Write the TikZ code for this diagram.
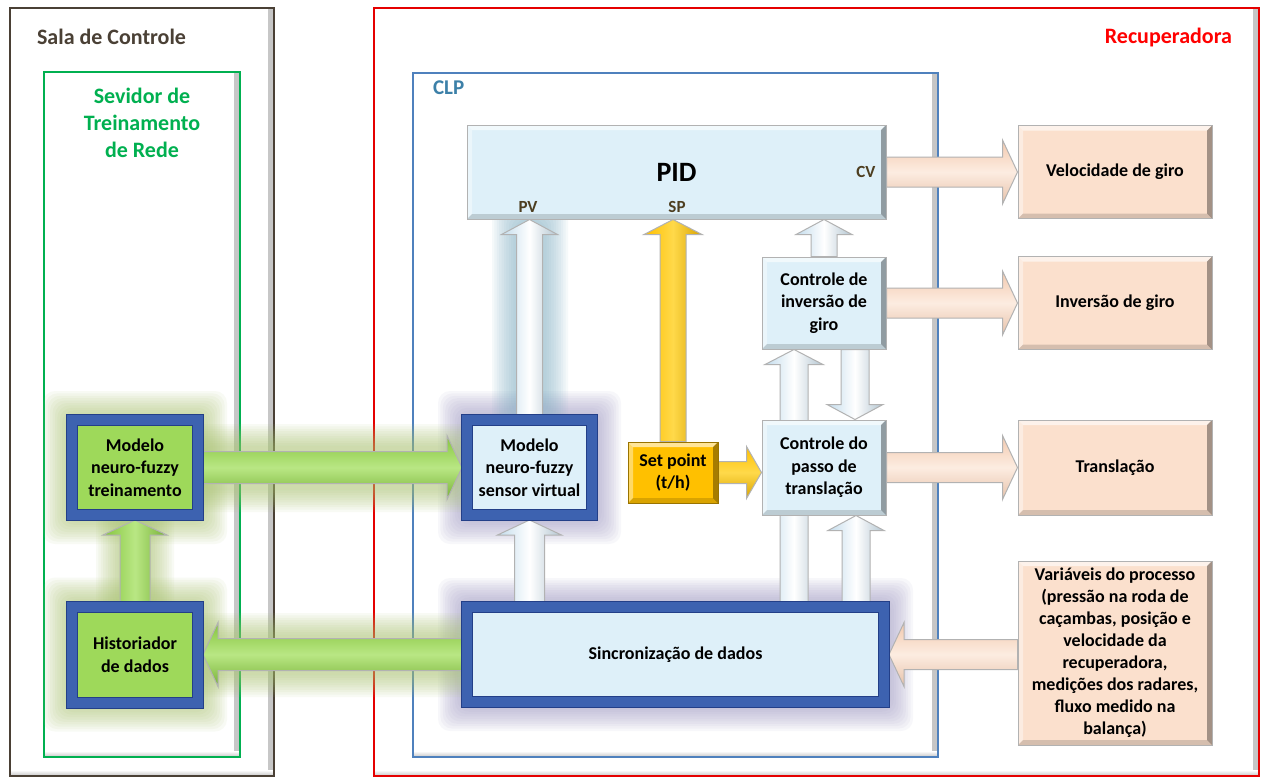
\documentclass[tikz,border=0pt]{standalone}
\usepackage{fontspec}
\setmainfont{Carlito}
\usetikzlibrary{calc}

\definecolor{peach}{HTML}{FBE0CD}
\definecolor{peachdark}{HTML}{F2C9AE}
\definecolor{iceblue}{HTML}{DEF0F9}
\definecolor{iceblue2}{HTML}{C3DCEC}
\definecolor{blueborder}{HTML}{3D62B0}
\definecolor{blueedge}{HTML}{233F88}
\definecolor{leaf}{HTML}{9ED95A}
\definecolor{leafdark}{HTML}{84C43C}
\definecolor{leaflight}{HTML}{B9E784}
\definecolor{gold}{HTML}{FFC000}
\definecolor{goldlight}{HTML}{FFD94A}
\definecolor{salabrown}{HTML}{4A4035}
\definecolor{srvgreen}{HTML}{00B050}
\definecolor{clpblue}{HTML}{3C80A8}
\definecolor{clpframe}{HTML}{4F81BD}
\definecolor{labbrown}{HTML}{4D3E20}
\definecolor{glowgreen}{HTML}{A9C46E}
\definecolor{glowlav}{HTML}{9C96C2}
\definecolor{glowblue}{HTML}{7FAFC5}

\newcommand\boxfont{\fontsize{9}{11.25}\selectfont\bfseries}
\newcommand\tagfont{\fontsize{8.5}{10}\selectfont\bfseries}
\newcommand\titlefont{\fontsize{11}{13.5}\selectfont\bfseries}

\pgfdeclarelayer{frames}
\pgfdeclarelayer{glows}
\pgfdeclarelayer{arrows}
\pgfsetlayers{frames,glows,arrows,main}

% block arrow: style, from, to, shaft half width, head half width
\newcommand\blockarrow[5][]{%
  \coordinate (ba-h) at ($(#3)!7.5pt!(#2)$);
  \draw[arrowline,#1] ($(#2)!#4!-90:(#3)$) -- ($(ba-h)!#4!-90:(#3)$)
    -- ($(ba-h)!#5!-90:(#3)$) -- (#3) -- ($(ba-h)!#5!90:(#3)$)
    -- ($(ba-h)!#4!90:(#3)$) -- ($(#2)!#4!90:(#3)$) -- cycle;}

% soft glow round a rectangle: colour, south west, north east
\newcommand\glow[3]{%
  \foreach \g in {1,...,10}{%
    \fill[#1,opacity=0.075,rounded corners=6pt] ($(#2)+(-1.2pt*\g,-1.2pt*\g)$) rectangle ($(#3)+(1.2pt*\g,1.2pt*\g)$);}}

\begin{document}
\begin{tikzpicture}[x=0.5pt,y=-0.5pt,
  bevel/.style={path picture={
    \fill[white,opacity=0.6] (path picture bounding box.north west) -- (path picture bounding box.north east)
      -- ++(-2.5pt,-2.5pt) -- ($(path picture bounding box.north west)+(2.5pt,-2.5pt)$) -- cycle;
    \fill[white,opacity=0.4] (path picture bounding box.north west) -- (path picture bounding box.south west)
      -- ++(2.5pt,2.5pt) -- ($(path picture bounding box.north west)+(2.5pt,-2.5pt)$) -- cycle;
    \fill[black,opacity=0.35] (path picture bounding box.north east) -- (path picture bounding box.south east)
      -- ++(-2.5pt,2.5pt) -- ($(path picture bounding box.north east)+(-2.5pt,-2.5pt)$) -- cycle;
    \fill[black,opacity=0.15] (path picture bounding box.south west) -- (path picture bounding box.south east)
      -- ++(-2.5pt,2.5pt) -- ($(path picture bounding box.south west)+(2.5pt,2.5pt)$) -- cycle;}},
  panel/.style={draw=#1,line width=1.2pt,fill=white,path picture={
    \shade[left color=white,right color=gray!45] ($(path picture bounding box.north east)+(-3pt,0)$) rectangle (path picture bounding box.south east);
    \shade[top color=white,bottom color=gray!45] ($(path picture bounding box.south west)+(0,3pt)$) rectangle (path picture bounding box.south east);}},
  box/.style={draw=gray!60,line width=0.5pt,fill=iceblue,align=center,inner sep=0pt,font=\boxfont,bevel},
  outbox/.style={box,fill=peach},
  goldbox/.style={box,fill=gold,draw=gold!60!black},
  model/.style={draw=blueborder,line width=5pt,fill=iceblue,preaction={draw=blueedge,line width=6pt},
    align=center,inner sep=0pt,font=\boxfont,path picture={
    \draw[blueedge,line width=1pt] ($(path picture bounding box.south west)+(2.5pt,2.5pt)$) rectangle ($(path picture bounding box.north east)+(-2.5pt,-2.5pt)$);}},
  greenmodel/.style={model,fill=leaf},
  tag/.style={font=\tagfont,text=labbrown,inner sep=1pt},
  arrowline/.style={draw=gray!60,line width=0.5pt,line join=miter},
  vblue/.style={left color=iceblue2,right color=iceblue2!75!gray,middle color=white},
  hpeach/.style={top color=peachdark,bottom color=peachdark!90!gray,middle color=white!40!peach},
  hgreen/.style={top color=leafdark,bottom color=leafdark!90!black,middle color=leaflight},
  vgreen/.style={left color=leafdark,right color=leafdark!90!black,middle color=leaflight},
  vgold/.style={left color=gold,right color=gold!85!black,middle color=goldlight},
  hgold/.style={top color=gold,bottom color=gold!85!black,middle color=goldlight}]

\useasboundingbox (0,0) rectangle (1262,778);

% frames
\begin{pgfonlayer}{frames}
\fill[white] (0,0) rectangle (1262,778);
\draw[panel=salabrown] (10,8) rectangle (274,776);
\draw[panel=srvgreen] (44,72) rectangle (240,757);
\draw[panel=red!90!black] (374,8) rectangle (1259,776);
\draw[panel=clpframe] (413,73) rectangle (938,757);
\end{pgfonlayer}

\node[anchor=west,font=\titlefont,text=salabrown] (salatitle) at (30,37) {Sala de Controle};
\node[align=center,font=\titlefont,text=srvgreen] (srvtitle) at (142,123) {Sevidor de\\Treinamento\\de Rede};
\node[anchor=east,font=\titlefont,text=red] (rectitle) at (1239,38) {Recuperadora};
\node[anchor=west,font=\fontsize{10.5}{12}\selectfont\bfseries,text=clpblue] (clptitle) at (426,88) {CLP};

% blocks
\node[box,minimum width=209.5pt,minimum height=47pt,font=\fontsize{14}{16}\selectfont\bfseries] (pid) at (676.5,172) {PID};
\node[tag] (pvlab) at (528,207) {PV};
\node[tag] (splab) at (677,207) {SP};
\node[tag] (cvlab) at (866,172) {CV};
\node[outbox,minimum width=97pt,minimum height=46.5pt] (velgiro) at (1115,172) {Velocidade de giro};
\node[outbox,minimum width=97pt,minimum height=46.5pt] (invgiro) at (1115,303) {Inversão de giro};
\node[outbox,minimum width=97pt,minimum height=47.5pt] (transl) at (1115,467.5) {Translação};
\node[outbox,minimum width=97pt,minimum height=92pt,font=\fontsize{9}{11}\selectfont\bfseries] (varproc) at (1115,653)
  {Variáveis do processo\\(pressão na roda de\\caçambas, posição e\\velocidade da\\recuperadora,\\medições dos radares,\\fluxo medido na\\balança)};
\node[box,minimum width=62pt,minimum height=46pt] (ctrlinv) at (824,303) {Controle de\\inversão de\\giro};
\node[box,minimum width=62pt,minimum height=47.5pt] (ctrlpasso) at (824,467.5) {Controle do\\passo de\\translação};
\node[goldbox,minimum width=45pt,minimum height=30.5pt] (setpoint) at (673,472.5) {Set point\\(t/h)};
\node[model,minimum width=62.5pt,minimum height=47.5pt] (sensor) at (529.5,467.5) {Modelo\\neuro-fuzzy\\sensor virtual};
\node[model,minimum width=208.5pt,minimum height=47.5pt] (sinc) at (675.5,654.5) {Sincronização de dados};
\node[greenmodel,minimum width=63pt,minimum height=47.5pt] (treino) at (135,467.5) {Modelo\\neuro-fuzzy\\treinamento};
\node[greenmodel,minimum width=63pt,minimum height=48pt] (hist) at (135,654.5) {Historiador\\de dados};

% glows
\begin{pgfonlayer}{glows}
\glow{glowlav}{sinc.south west}{sinc.north east}
\glow{glowlav}{sensor.south west}{sensor.north east}
\glow{glowgreen}{treino.south west}{treino.north east}
\glow{glowgreen}{hist.south west}{hist.north east}
\glow{glowgreen}{203,488}{455,448}
\glow{glowgreen}{212,673}{462,637}
\glow{glowgreen}{120,602}{150,520}
\glow{glowblue}{516,410}{544,222}
\end{pgfonlayer}

% connectors
\begin{pgfonlayer}{arrows}
\coordinate (pv-b) at (pid.south -| sensor.north);
\coordinate (sp-b) at (pid.south -| setpoint.north);
\coordinate (ci-b) at (pid.south -| ctrlinv.north);
\coordinate (up-b) at ($(ctrlinv.south)+(-30,0)$);
\coordinate (up-a) at (sinc.north -| up-b);
\coordinate (dn-a) at ($(ctrlinv.south)+(31,0)$);
\coordinate (dn-b) at (ctrlpasso.north -| dn-a);
\coordinate (cp-b) at ($(ctrlpasso.south)+(32,0)$);
\coordinate (cp-a) at (sinc.north -| cp-b);
\coordinate (sv-a) at (sinc.north -| sensor.south);
\coordinate (vp-a) at (varproc.west |- sinc.east);
\coordinate (st-b) at (ctrlpasso.west |- setpoint.east);
\blockarrow[hpeach]{pid.east}{velgiro.west}{7.5pt}{16pt}
\blockarrow[hpeach]{ctrlinv.east}{invgiro.west}{7.5pt}{16pt}
\blockarrow[hpeach]{ctrlpasso.east}{transl.west}{7.5pt}{16pt}
\blockarrow[hpeach]{vp-a}{sinc.east}{7.5pt}{16pt}
\blockarrow[vblue]{sensor.north}{pv-b}{6.5pt}{14pt}
\blockarrow[vblue]{ctrlinv.north}{ci-b}{6.5pt}{14pt}
\blockarrow[vblue]{up-a}{up-b}{7pt}{14.5pt}
\blockarrow[vblue]{dn-a}{dn-b}{7pt}{14pt}
\blockarrow[vblue]{cp-a}{cp-b}{7pt}{14pt}
\blockarrow[vblue]{sv-a}{sensor.south}{7.5pt}{16pt}
\blockarrow[vgold]{setpoint.north}{sp-b}{6.5pt}{14.5pt}
\blockarrow[hgold]{setpoint.east}{st-b}{5.5pt}{13pt}
\blockarrow[hgreen]{treino.east}{sensor.west}{8pt}{16pt}
\blockarrow[hgreen]{sinc.west}{hist.east}{8pt}{16pt}
\blockarrow[vgreen]{hist.north}{treino.south}{7.5pt}{16pt}
\end{pgfonlayer}
\end{tikzpicture}
\end{document}
